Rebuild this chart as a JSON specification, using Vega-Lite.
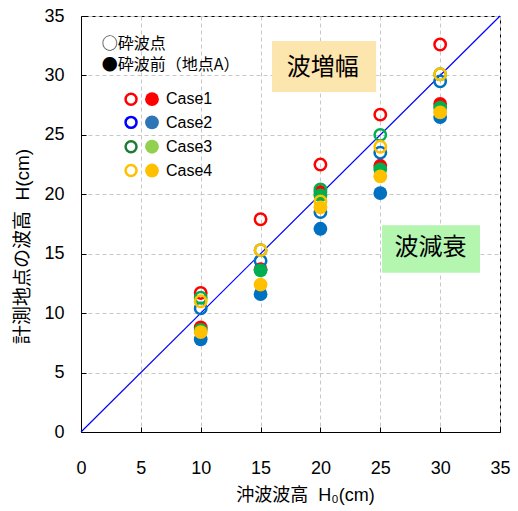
{
  "$schema": "https://vega.github.io/schema/vega-lite/v6.json",
  "width": 419,
  "height": 416,
  "autosize": "none",
  "padding": {"left": 81, "top": 16, "right": 18, "bottom": 79},
  "background": "white",
  "data": {"values": [{}]},
  "config": {
    "view": {"stroke": "black", "strokeWidth": 1},
    "font": "Liberation Sans, Noto Sans CJK JP",
    "axis": {
      "grid": true,
      "domainColor": "black",
      "domainWidth": 1,
      "tickColor": "black",
      "tickSize": -5,
      "labelFlush": false,
      "labelFont": "Liberation Sans",
      "labelFontSize": 18,
      "labelColor": "black",
      "titleFont": "Liberation Sans, Noto Sans CJK JP",
      "titleFontSize": 18,
      "titleFontWeight": "normal",
      "titleColor": "black",
      "gridColor": "#C8C8C8",
      "gridDash": [4, 3],
      "gridWidth": 1
    }
  },
  "layer": [
    {
      "mark": {"type": "rect", "color": "#FDE5AE"},
      "encoding": {"x": {"datum": 15.96}, "x2": {"datum": 24.65}, "y": {"datum": 32.9}, "y2": {"datum": 28.6}}
    },
    {
      "mark": {"type": "rect", "color": "#B4F5B0"},
      "encoding": {"x": {"datum": 25.15}, "x2": {"datum": 33.33}, "y": {"datum": 17.4}, "y2": {"datum": 13.4}}
    },
    {
      "mark": {"type": "text", "text": "波増幅", "font": "Noto Sans CJK JP", "fontSize": 24, "color": "black", "align": "center", "baseline": "middle"},
      "encoding": {"x": {"datum": 20.2}, "y": {"datum": 30.6}}
    },
    {
      "mark": {"type": "text", "text": "波減衰", "font": "Noto Sans CJK JP", "fontSize": 24, "color": "black", "align": "center", "baseline": "middle"},
      "encoding": {"x": {"datum": 29.2}, "y": {"datum": 15.5}}
    },
    {
      "mark": {"type": "rule", "color": "#0000FF", "strokeWidth": 1.2},
      "encoding": {"x": {"datum": 0}, "y": {"datum": 0}, "x2": {"datum": 35}, "y2": {"datum": 35}}
    },
    {
      "data": {"values": [
        {"H0": 10, "H": 11.7, "case": "Case1", "kind": "砕波点"},
        {"H0": 15, "H": 17.9, "case": "Case1", "kind": "砕波点"},
        {"H0": 20, "H": 22.5, "case": "Case1", "kind": "砕波点"},
        {"H0": 25, "H": 26.7, "case": "Case1", "kind": "砕波点"},
        {"H0": 30, "H": 32.6, "case": "Case1", "kind": "砕波点"},
        {"H0": 10, "H": 8.8, "case": "Case1", "kind": "砕波前"},
        {"H0": 15, "H": 13.7, "case": "Case1", "kind": "砕波前"},
        {"H0": 20, "H": 20.2, "case": "Case1", "kind": "砕波前"},
        {"H0": 25, "H": 22.4, "case": "Case1", "kind": "砕波前"},
        {"H0": 30, "H": 27.6, "case": "Case1", "kind": "砕波前"},
        {"H0": 10, "H": 10.4, "case": "Case2", "kind": "砕波点"},
        {"H0": 15, "H": 14.4, "case": "Case2", "kind": "砕波点"},
        {"H0": 20, "H": 18.5, "case": "Case2", "kind": "砕波点"},
        {"H0": 25, "H": 23.5, "case": "Case2", "kind": "砕波点"},
        {"H0": 30, "H": 29.5, "case": "Case2", "kind": "砕波点"},
        {"H0": 10, "H": 7.8, "case": "Case2", "kind": "砕波前"},
        {"H0": 15, "H": 11.6, "case": "Case2", "kind": "砕波前"},
        {"H0": 20, "H": 17.1, "case": "Case2", "kind": "砕波前"},
        {"H0": 25, "H": 20.1, "case": "Case2", "kind": "砕波前"},
        {"H0": 30, "H": 26.5, "case": "Case2", "kind": "砕波前"},
        {"H0": 10, "H": 11.3, "case": "Case3", "kind": "砕波点"},
        {"H0": 15, "H": 15.3, "case": "Case3", "kind": "砕波点"},
        {"H0": 20, "H": 20.4, "case": "Case3", "kind": "砕波点"},
        {"H0": 25, "H": 25.0, "case": "Case3", "kind": "砕波点"},
        {"H0": 30, "H": 30.1, "case": "Case3", "kind": "砕波点"},
        {"H0": 10, "H": 8.6, "case": "Case3", "kind": "砕波前"},
        {"H0": 15, "H": 13.6, "case": "Case3", "kind": "砕波前"},
        {"H0": 20, "H": 19.9, "case": "Case3", "kind": "砕波前"},
        {"H0": 25, "H": 22.1, "case": "Case3", "kind": "砕波前"},
        {"H0": 30, "H": 27.3, "case": "Case3", "kind": "砕波前"},
        {"H0": 10, "H": 11.0, "case": "Case4", "kind": "砕波点"},
        {"H0": 15, "H": 15.3, "case": "Case4", "kind": "砕波点"},
        {"H0": 20, "H": 19.4, "case": "Case4", "kind": "砕波点"},
        {"H0": 25, "H": 24.0, "case": "Case4", "kind": "砕波点"},
        {"H0": 30, "H": 30.1, "case": "Case4", "kind": "砕波点"},
        {"H0": 10, "H": 8.4, "case": "Case4", "kind": "砕波前"},
        {"H0": 15, "H": 12.4, "case": "Case4", "kind": "砕波前"},
        {"H0": 20, "H": 18.9, "case": "Case4", "kind": "砕波前"},
        {"H0": 25, "H": 21.5, "case": "Case4", "kind": "砕波前"},
        {"H0": 30, "H": 26.9, "case": "Case4", "kind": "砕波前"}
      ]},
      "mark": {"type": "point", "shape": "circle", "filled": true, "opacity": 1},
      "encoding": {
        "x": {"field": "H0", "type": "quantitative", "scale": {"domain": [0, 35], "nice": false},
              "axis": {"values": [0, 5, 10, 15, 20, 25, 30, 35], "title": "沖波波高\u00a0\u00a0H₀(cm)", "labelPadding": 32, "titlePadding": 9, "titleX": 224}},
        "y": {"field": "H", "type": "quantitative", "scale": {"domain": [0, 35], "nice": false},
              "axis": {"values": [0, 5, 10, 15, 20, 25, 30, 35], "title": "計測地点の波高\u00a0\u00a0H(cm)", "titleFontSize": 19, "labelPadding": 22, "titlePadding": 11, "titleY": 230}},
        "fill": {"condition": {"test": "datum.kind === '砕波点'", "value": "transparent"},
                 "field": "case", "type": "nominal",
                 "scale": {"domain": ["Case1", "Case2", "Case3", "Case4"], "range": ["#FF0000", "#0070C0", "#00B050", "#FFC000"]}, "legend": null},
        "stroke": {"field": "case", "type": "nominal",
                   "scale": {"domain": ["Case1", "Case2", "Case3", "Case4"], "range": ["#FF0000", "#0070C0", "#00B050", "#FFC000"]}, "legend": null},
        "strokeWidth": {"condition": {"test": "datum.kind === '砕波点'", "value": 2.5}, "value": 0},
        "size": {"condition": {"test": "datum.kind === '砕波点'", "value": 130}, "value": 190}
      }
    },
    {
      "mark": {"type": "text", "text": "○砕波点", "font": "Noto Sans CJK JP", "fontSize": 16, "color": "black", "align": "left", "baseline": "middle"},
      "encoding": {"x": {"datum": 1.73}, "y": {"datum": 32.64}}
    },
    {
      "mark": {"type": "text", "text": "●砕波前（地点A）", "font": "Noto Sans CJK JP", "fontSize": 16, "color": "black", "align": "left", "baseline": "middle"},
      "encoding": {"x": {"datum": 1.73}, "y": {"datum": 30.9}}
    },
    {
      "mark": {"type": "text", "text": ["Case1", "Case2", "Case3", "Case4"], "font": "Liberation Sans", "fontSize": 16, "lineHeight": 24, "color": "black", "align": "left", "baseline": "middle"},
      "encoding": {"x": {"datum": 7.1}, "y": {"datum": 28.0}}
    },
    {"mark": {"type": "point", "shape": "circle", "filled": false, "stroke": "#FF0000", "strokeWidth": 2.5, "size": 120, "opacity": 1}, "encoding": {"x": {"datum": 4.18}, "y": {"datum": 28.0}}},
    {"mark": {"type": "point", "shape": "circle", "filled": false, "stroke": "#0000FF", "strokeWidth": 2.5, "size": 120, "opacity": 1}, "encoding": {"x": {"datum": 4.18}, "y": {"datum": 26.05}}},
    {"mark": {"type": "point", "shape": "circle", "filled": false, "stroke": "#1E7B34", "strokeWidth": 2.5, "size": 120, "opacity": 1}, "encoding": {"x": {"datum": 4.18}, "y": {"datum": 24.0}}},
    {"mark": {"type": "point", "shape": "circle", "filled": false, "stroke": "#FFC000", "strokeWidth": 2.5, "size": 120, "opacity": 1}, "encoding": {"x": {"datum": 4.18}, "y": {"datum": 22.0}}},
    {"mark": {"type": "point", "shape": "circle", "filled": true, "fill": "#FF0000", "strokeWidth": 0, "size": 190, "opacity": 1}, "encoding": {"x": {"datum": 5.93}, "y": {"datum": 28.0}}},
    {"mark": {"type": "point", "shape": "circle", "filled": true, "fill": "#2E75B6", "strokeWidth": 0, "size": 190, "opacity": 1}, "encoding": {"x": {"datum": 5.93}, "y": {"datum": 26.05}}},
    {"mark": {"type": "point", "shape": "circle", "filled": true, "fill": "#92D050", "strokeWidth": 0, "size": 190, "opacity": 1}, "encoding": {"x": {"datum": 5.93}, "y": {"datum": 24.0}}},
    {"mark": {"type": "point", "shape": "circle", "filled": true, "fill": "#FFC000", "strokeWidth": 0, "size": 190, "opacity": 1}, "encoding": {"x": {"datum": 5.93}, "y": {"datum": 22.0}}}
  ]
}
